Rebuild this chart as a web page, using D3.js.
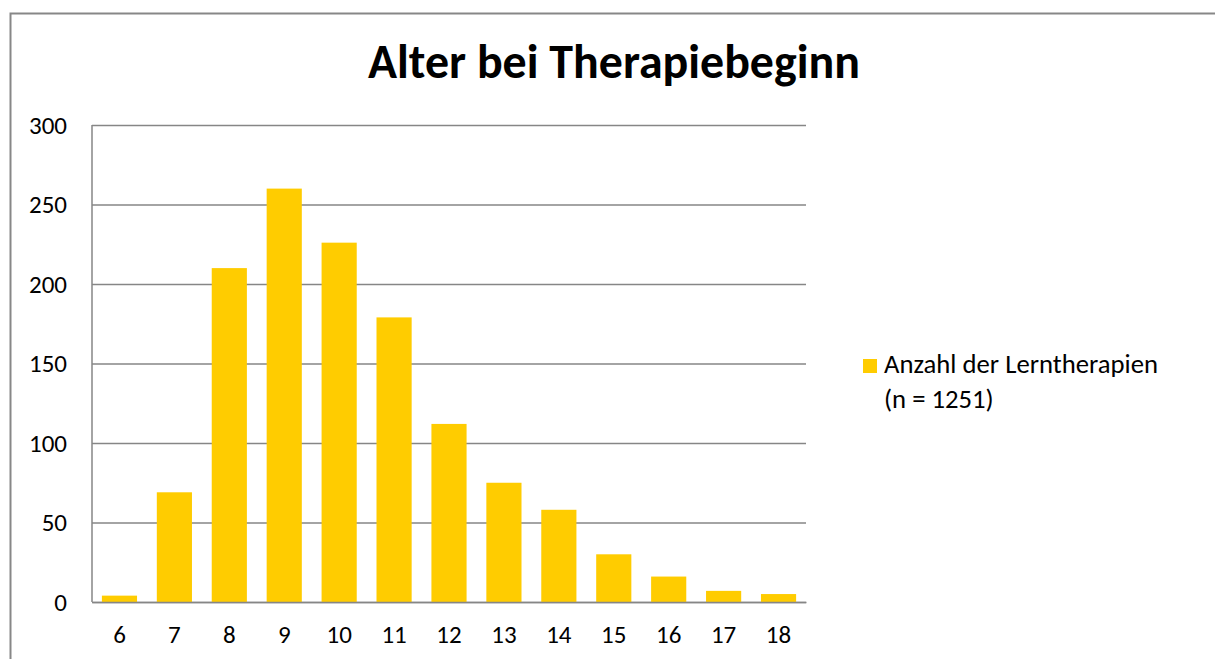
<!DOCTYPE html>
<html>
<head>
<meta charset="utf-8">
<script src="https://cdn.jsdelivr.net/npm/d3@7"></script>
<style>
html, body { margin: 0; padding: 0; background: #fff; }
svg { display: block; font-family: Carlito, Calibri, Lato, "Open Sans", sans-serif; }
</style>
</head>
<body>
<svg id="chart" width="1215" height="659"></svg>
<script>
const title = "Alter bei Therapiebeginn";
const categories = ["6","7","8","9","10","11","12","13","14","15","16","17","18"];
const values = [4, 69, 210, 260, 226, 179, 112, 75, 58, 30, 16, 7, 5];
const yTicks = [0, 50, 100, 150, 200, 250, 300];
const seriesName = ["Anzahl der Lerntherapien", "(n = 1251)"];

const svg = d3.select("#chart");
const barColor = "#ffcc00";
const gridColor = "#868686";
const FONT = "Carlito, Calibri, Lato, 'Open Sans', sans-serif";

// outer chart border
svg.append("rect").attr("x", 10.5).attr("y", 13.5).attr("width", 1230).attr("height", 700)
  .attr("fill", "none").attr("stroke", "#878787").attr("stroke-width", 2);

const plot = { left: 92, right: 806, top: 125, bottom: 602 };

const x = d3.scaleBand().domain(categories).range([plot.left, plot.right]).paddingInner(0.36).paddingOuter(0.18);
const y = d3.scaleLinear().domain([0, 300]).range([plot.bottom, plot.top]);

// gridlines + y labels
const yAxis = d3.axisLeft(y).tickValues(yTicks).tickSize(-(plot.right - plot.left)).tickPadding(25).tickFormat(d3.format("d"));
const gy = svg.append("g").attr("transform", `translate(${plot.left},0)`).call(yAxis)
  .attr("font-family", FONT).attr("font-size", 25);
gy.select(".domain").remove();
gy.selectAll(".tick line").attr("stroke", gridColor).attr("stroke-width", 1.5);
gy.selectAll(".tick text").attr("fill", "#000");

// bars
svg.append("g").selectAll("rect").data(values).join("rect")
  .attr("x", (d, i) => x(categories[i]))
  .attr("y", d => y(d))
  .attr("width", x.bandwidth())
  .attr("height", d => y(0) - y(d))
  .attr("fill", barColor);

// left axis line and bottom axis
svg.append("line").attr("x1", plot.left).attr("x2", plot.left).attr("y1", plot.top).attr("y2", plot.bottom)
  .attr("stroke", gridColor).attr("stroke-width", 1.5);
const xAxis = d3.axisBottom(x).tickSize(0).tickPadding(23);
const gx = svg.append("g").attr("transform", `translate(0,${plot.bottom})`).call(xAxis)
  .attr("font-family", FONT).attr("font-size", 25);
gx.select(".domain").attr("stroke", gridColor).attr("stroke-width", 1.5);
gx.selectAll(".tick text").attr("fill", "#000");

// title
const t = svg.append("text").attr("x", 614).attr("y", 78).attr("text-anchor", "middle")
  .attr("font-size", 40).attr("font-weight", "bold").attr("fill", "#000").text(title);
const tw = t.node().getComputedTextLength();
if (tw > 0) t.attr("font-size", 40 * 492 / tw);

// legend
svg.append("rect").attr("x", 863).attr("y", 359).attr("width", 14).attr("height", 14).attr("fill", barColor);
const lt = svg.append("text").attr("x", 884).attr("y", 373).attr("font-size", 24).attr("fill", "#000");
const spans = lt.selectAll("tspan").data(seriesName).join("tspan")
  .attr("x", 884).attr("dy", (d, i) => i === 0 ? 0 : 35).text(d => d);
const l0 = spans.nodes()[0];
const lw = l0.getComputedTextLength();
if (lw > 0) {
  const fs = 24 * 274 / lw;
  lt.attr("font-size", fs);
}
</script>
</body>
</html>
